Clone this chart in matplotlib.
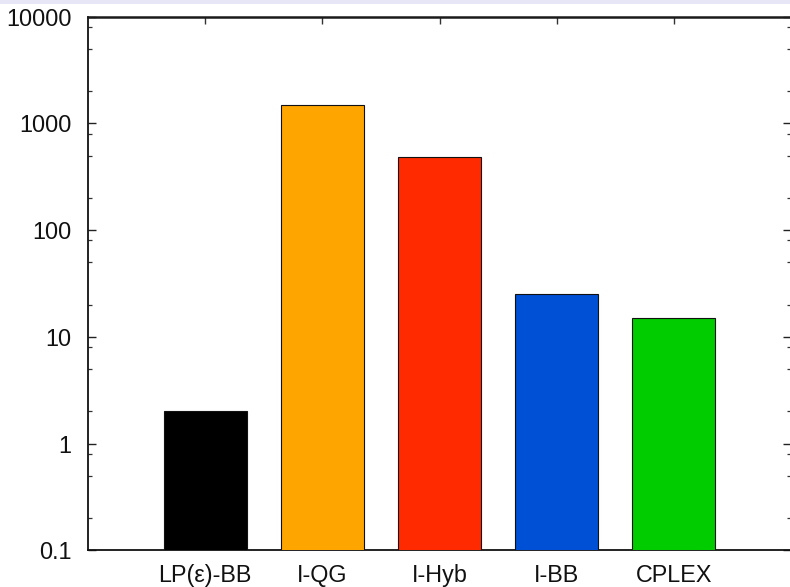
import matplotlib
matplotlib.use("Agg")
import matplotlib.pyplot as plt
from matplotlib.ticker import FixedLocator, NullFormatter
from matplotlib.patches import Rectangle

categories = ["LP(\u03b5)-BB", "I-QG", "I-Hyb", "I-BB", "CPLEX"]
values = [2.0, 1500, 485, 25, 15]
colors = ["#000000", "#FFA500", "#FF2A00", "#0050D5", "#00CC00"]
ytick_vals = [0.1, 1, 10, 100, 1000, 10000]
ytick_labels = ["0.1", "1", "10", "100", "1000", "10000"]
minor_mult = [2, 5, 8]

plt.rcParams['font.family'] = ['Liberation Sans', 'DejaVu Sans']

fig = plt.figure(figsize=(7.9, 5.87), dpi=100)
fig.patches.append(Rectangle((0, 1 - 4/587), 1, 4/587, transform=fig.transFigure,
                             facecolor="#e6e6f6", edgecolor="none", zorder=0))
ax = fig.add_axes([88/790, 36.7/587, 703/790, 533.6/587])

x = list(range(len(categories)))
ax.bar(x, values, width=0.71, color=colors, edgecolor="#111111", linewidth=0.8,
       zorder=3)

ax.set_yscale("log")
ax.set_ylim(0.1, 10000)
ax.set_xlim(-1, 5)

ax.yaxis.set_major_locator(FixedLocator(ytick_vals))
ax.set_yticklabels(ytick_labels)
minors = [m * 10**e for e in range(-1, 4) for m in minor_mult]
ax.yaxis.set_minor_locator(FixedLocator(minors))
ax.yaxis.set_minor_formatter(NullFormatter())

ax.set_xticks(x)
ax.set_xticklabels(categories)

ax.tick_params(axis="y", which="major", direction="in", length=6, width=1.0,
               left=True, right=True, labelsize=16.8, pad=12, colors="#222222",
               labelcolor="#111111")
ax.tick_params(axis="y", which="minor", direction="in", length=3, width=0.9,
               left=True, right=True, colors="#333333")
ax.tick_params(axis="x", which="major", direction="in", length=5, width=1.0,
               bottom=False, top=True, labelsize=16.8, pad=10, colors="#333333",
               labelcolor="#111111")

for s in ["left", "bottom"]:
    ax.spines[s].set_linewidth(1.3)
    ax.spines[s].set_color("#111111")
ax.spines["top"].set_linewidth(1.8)
ax.spines["top"].set_color("#1a1a1a")
ax.spines["right"].set_linewidth(1.3)

fig.savefig("out.png", dpi=100)
